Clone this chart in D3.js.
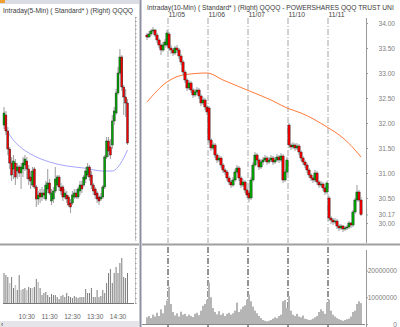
<!DOCTYPE html>
<html><head><meta charset="utf-8">
<script src="https://cdn.jsdelivr.net/npm/d3@7"></script>
<style>html,body{margin:0;padding:0;background:#fff;overflow:hidden}svg{display:block}</style>
</head><body>
<svg id="c" width="400" height="327"></svg>
<script>
// ---------- right panel: 10-min bars ----------
const dayLabels = ["11/05","11/06","11/07","11/10","11/11"];
const dayStartBars = [11,31,51,71,91];
// [open, high, low, close]
const tenMinBars = [
[33.76,33.80,33.66,33.72],[33.72,33.84,33.70,33.78],[33.78,33.88,33.74,33.84],[33.84,33.92,33.80,33.86],
[33.86,33.88,33.72,33.76],[33.76,33.80,33.60,33.66],[33.66,33.70,33.50,33.56],[33.56,33.60,33.36,33.46],
[33.46,33.62,33.42,33.56],[33.56,33.68,33.50,33.62],[33.56,33.86,33.52,33.80],[33.78,33.82,33.44,33.50],
[33.50,33.56,33.38,33.46],[33.46,33.50,33.34,33.40],[33.40,33.54,33.36,33.50],[33.50,33.56,33.40,33.46],
[33.46,33.50,33.28,33.34],[33.34,33.38,33.16,33.22],[33.22,33.26,32.96,33.02],[33.02,33.06,32.80,32.86],
[32.86,32.90,32.64,32.70],[32.70,32.86,32.66,32.80],[32.80,32.84,32.60,32.66],[32.66,32.70,32.50,32.56],
[32.56,32.68,32.52,32.62],[32.62,32.72,32.58,32.66],[32.66,32.70,32.48,32.54],[32.54,32.58,32.34,32.40],
[32.40,32.52,32.36,32.46],[32.46,32.50,32.26,32.32],[32.32,32.36,32.16,32.22],[32.30,32.34,31.60,31.66],
[31.66,31.70,31.44,31.50],[31.50,31.62,31.46,31.56],[31.56,31.60,31.30,31.36],[31.36,31.40,31.20,31.26],
[31.26,31.36,31.22,31.30],[31.30,31.34,31.10,31.16],[31.16,31.20,31.00,31.06],[31.06,31.10,30.96,31.02],
[31.02,31.06,30.84,30.90],[30.90,30.94,30.76,30.82],[30.82,30.86,30.70,30.76],[30.76,30.92,30.72,30.86],
[30.86,31.08,30.82,31.02],[31.02,31.16,30.98,31.10],[31.10,31.14,30.84,30.90],[30.90,30.94,30.70,30.76],
[30.76,30.88,30.72,30.82],[30.82,30.86,30.60,30.66],[30.66,30.70,30.50,30.56],[30.60,30.64,30.42,30.50],
[30.50,30.92,30.46,30.86],[30.86,31.22,30.82,31.16],[31.16,31.42,31.12,31.36],[31.36,31.40,31.20,31.26],
[31.26,31.30,31.06,31.12],[31.12,31.28,31.08,31.22],[31.22,31.32,31.16,31.26],[31.26,31.36,31.22,31.30],
[31.30,31.34,31.16,31.22],[31.22,31.32,31.18,31.26],[31.26,31.36,31.22,31.30],[31.30,31.34,31.16,31.22],
[31.22,31.32,31.18,31.26],[31.26,31.38,31.22,31.32],[31.32,31.36,31.20,31.26],[31.26,31.40,31.22,31.34],
[31.34,31.38,30.80,30.86],[30.86,31.08,30.82,31.02],[31.02,31.32,30.98,31.26],[31.96,32.00,31.50,31.56],
[31.56,31.60,31.46,31.52],[31.52,31.62,31.48,31.56],[31.56,31.60,31.44,31.50],[31.50,31.60,31.46,31.54],
[31.54,31.58,31.36,31.42],[31.42,31.46,31.24,31.30],[31.30,31.34,31.16,31.22],[31.22,31.26,31.10,31.16],
[31.16,31.20,31.00,31.06],[31.06,31.10,30.90,30.96],[30.96,31.00,30.84,30.90],[30.90,30.94,30.80,30.86],
[30.86,31.06,30.82,31.00],[31.00,31.04,30.76,30.82],[30.82,30.86,30.70,30.76],[30.76,30.84,30.72,30.78],
[30.78,30.82,30.64,30.70],[30.70,30.74,30.56,30.62],[30.62,30.84,30.58,30.80],[30.50,30.54,30.04,30.10],
[30.10,30.14,29.98,30.06],[30.06,30.10,29.96,30.02],[30.02,30.10,29.98,30.04],[30.04,30.08,29.88,29.94],
[29.94,29.98,29.84,29.90],[29.90,29.98,29.86,29.94],[29.94,29.96,29.82,29.88],[29.88,29.94,29.84,29.90],
[29.90,29.96,29.86,29.92],[29.92,30.04,29.88,30.00],[30.00,30.02,29.90,29.96],[29.96,30.26,29.92,30.22],
[30.22,30.50,30.18,30.46],[30.46,30.76,30.42,30.62],[30.62,30.66,30.42,30.46],[30.46,30.52,30.14,30.17]
];
// volume in millions of shares
const tenMinVolume = [
2.5,3.0,2.2,3.5,2.8,4.2,3.0,5.5,4.0,7.0,8.8,14.0,7.5,4.5,3.2,4.0,2.8,4.6,3.5,3.8,
2.9,3.5,3.0,2.6,3.8,4.2,3.3,5.0,6.8,7.5,9.0,15.5,10.0,6.0,4.5,3.6,4.8,3.4,4.0,3.0,
3.8,4.2,3.5,4.0,5.0,8.0,4.5,5.5,6.5,7.0,9.0,11.0,8.5,6.5,5.0,4.0,3.0,2.2,1.5,1.2,
1.0,1.2,1.5,2.0,2.5,2.2,3.0,3.5,8.5,9.0,6.0,10.5,5.0,3.5,3.0,3.8,2.8,2.5,3.2,2.0,
1.8,1.5,1.6,2.0,2.5,3.0,4.5,5.5,4.8,3.8,8.0,9.0,5.0,3.5,2.8,2.2,1.8,1.5,1.2,1.5,
1.8,2.0,2.8,4.5,5.0,7.5,8.5,7.8
];
// moving average samples: [bar index, value]
const tenMinMA = [[0,32.42],[10,32.82],[18,32.96],[30,33.00],[38,32.86],[50,32.66],[62,32.46],
[70,32.30],[77,32.20],[90,31.92],[98,31.70],[102,31.55],[107,31.32]];
const priceTicks = [34.00,33.50,33.00,32.50,32.00,31.50,31.00,30.50,30.00];
const lastPrice = 30.17;
const volumeTicks = [0,10000000,20000000];

// ---------- left panel: 5-min bars (11/11) ----------
const fiveMinBars = [
[30.26,30.35,30.24,30.32],[30.31,30.33,30.21,30.23],[30.23,30.25,30.11,30.14],[30.14,30.15,30.04,30.07],
[30.07,30.10,29.98,30.01],[30.04,30.11,29.99,30.08],[30.07,30.09,29.96,30.00],[30.03,30.07,29.99,30.05],
[30.05,30.06,30.00,30.02],[30.02,30.07,29.94,30.05],[30.04,30.10,30.00,30.07],[30.06,30.11,30.03,30.09],
[30.08,30.10,29.99,30.04],[30.04,30.06,29.96,29.99],[30.00,30.03,29.94,29.98],[29.96,30.05,29.95,30.03],
[30.04,30.05,29.94,29.95],[29.95,29.96,29.85,29.89],[29.89,29.93,29.86,29.91],[29.92,29.94,29.87,29.90],
[29.90,29.95,29.88,29.92],[29.92,29.94,29.89,29.91],[29.89,29.98,29.88,29.96],[29.94,30.04,29.92,29.97],
[29.97,29.99,29.91,29.92],[29.88,29.94,29.86,29.92],[29.89,29.95,29.87,29.93],[29.93,30.05,29.92,29.99],
[29.96,30.01,29.95,30.00],[30.00,30.01,29.93,29.95],[29.95,29.97,29.91,29.93],[29.95,29.96,29.88,29.90],
[29.90,29.94,29.89,29.92],[29.91,29.93,29.87,29.89],[29.90,29.91,29.85,29.86],[29.87,29.89,29.82,29.85],
[29.87,29.93,29.86,29.91],[29.90,29.94,29.89,29.92],[29.92,29.94,29.89,29.90],[29.90,29.95,29.89,29.94],
[29.93,29.98,29.91,29.96],[29.96,29.98,29.92,29.94],[29.96,30.01,29.95,30.00],[29.99,30.05,29.97,30.03],
[30.01,30.07,30.00,30.05],[30.05,30.06,29.98,30.00],[30.01,30.03,29.94,29.96],[29.96,29.97,29.91,29.93],
[29.94,29.95,29.89,29.91],[29.92,29.93,29.87,29.89],[29.90,29.91,29.86,29.88],[29.89,29.92,29.88,29.90],
[29.90,29.96,29.89,29.95],[29.95,30.11,29.94,30.10],[30.10,30.20,30.09,30.18],[30.18,30.20,30.10,30.13],
[30.15,30.19,30.09,30.11],[30.16,30.31,30.14,30.28],[30.28,30.35,30.26,30.33],[30.32,30.44,30.31,30.42],
[30.42,30.55,30.41,30.52],[30.52,30.64,30.51,30.60],[30.60,30.61,30.43,30.45],[30.45,30.46,30.31,30.40],
[30.40,30.44,30.30,30.37],[30.37,30.39,30.16,30.17]
];
const fiveMinVolume = [
3.0,2.8,2.6,2.0,2.6,1.5,1.8,1.3,2.8,1.3,1.4,1.5,1.3,1.6,1.5,1.5,1.6,2.4,2.1,1.5,
0.8,1.0,1.1,0.8,0.6,0.9,0.8,0.8,0.6,0.4,0.7,0.8,0.6,1.0,0.7,0.6,0.5,0.7,0.6,0.5,
0.6,0.6,0.6,1.4,1.0,1.0,1.5,0.6,0.6,1.3,0.6,0.7,1.3,1.0,2.0,3.0,3.4,2.0,3.0,3.6,
3.0,4.0,4.5,2.6,2.5,3.0
];
const fiveMinMA = [[1,30.245],[3,30.21],[8,30.155],[15,30.11],[24,30.075],[33,30.055],[42,30.045],
[52,30.03],[57,30.03],[60,30.05],[63,30.095],[65,30.135]];
const timeLabels = ["10:30","11:30","12:30","13:30","14:30"];
const timeLabelBars = [12,24,36,48,60];

const headerLeft = "Intraday(5-Min) ( Standard* )  (Right)  QQQQ";
const headerRight = "Intraday(10-Min) ( Standard* )  (Right)   QQQQ - POWERSHARES QQQ TRUST UNI";

// ---------- drawing ----------
const FONT = "'Liberation Sans Narrow','Arial Narrow','Liberation Sans',Arial,sans-serif";
const svg = d3.select("#c");
const defs = svg.append("defs");
function clip(id, x, y, w, h){ defs.append("clipPath").attr("id", id).append("rect").attr("x",x).attr("y",y).attr("width",w).attr("height",h); return `url(#${id})`; }

// header text squeezed horizontally to a target width
function header(txt, x, y, width){
  const t = svg.append("text").attr("x",0).attr("y",0).attr("font-family",FONT).attr("font-size",7.2)
    .attr("fill","#3a3a3a").text(txt);
  const w = t.node().getComputedTextLength();
  t.attr("transform",`translate(${x},${y}) scale(${width/w},1)`);
}

function candles(g, data, x, y, bw){
  const c = g.selectAll("g.cd").data(data).join("g").attr("class","cd");
  c.append("line").attr("x1",(d,i)=>x(i)).attr("x2",(d,i)=>x(i))
    .attr("y1",d=>y(d[1])).attr("y2",d=>y(d[2])).attr("stroke","#a4a4a4").attr("stroke-width",1.1);
  c.append("rect").attr("x",(d,i)=>x(i)-bw/2).attr("width",bw)
    .attr("y",d=>y(Math.max(d[0],d[3])))
    .attr("height",d=>Math.max(1,Math.abs(y(d[0])-y(d[3]))))
    .attr("fill",d=>d[3]>=d[0]?"#00a400":"#f00000")
    .attr("stroke","#202020").attr("stroke-width",0.4);
}

// ===== left panel =====
const xL = d3.scaleLinear().domain([0,65]).range([4,127.5]);
const yL = d3.scaleLinear().domain([29.685,30.80]).range([240,17]);
const vL = d3.scaleLinear().domain([0,5.5]).range([303,248]);

svg.append("rect").attr("x",0).attr("y",0).attr("width",139).attr("height",4).attr("fill","#dcdce4");
svg.append("rect").attr("x",0).attr("y",0).attr("width",5).attr("height",3).attr("fill","#f0a030");
header(headerLeft, 3, 12.5, 130);

const gL = svg.append("g").attr("clip-path", clip("cl",0,15,134,228));
gL.append("path").datum(fiveMinMA)
  .attr("d", d3.line().x(d=>xL(d[0])).y(d=>yL(d[1])).curve(d3.curveMonotoneX))
  .attr("fill","none").attr("stroke","#9a9aff").attr("stroke-width",0.9);
candles(gL, fiveMinBars, xL, yL, 2);

svg.append("g").attr("transform","translate(135,0)")
  .call(d3.axisRight(yL).ticks(40).tickSize(1.5).tickFormat(""))
  .call(g=>g.select(".domain").attr("stroke","#c8c8c8"))
  .call(g=>g.selectAll(".tick line").attr("stroke","#999"));
svg.append("g").attr("transform","translate(135,0)")
  .call(d3.axisRight(vL).ticks(14).tickSize(1.5).tickFormat(""))
  .call(g=>g.select(".domain").attr("stroke","#c8c8c8"))
  .call(g=>g.selectAll(".tick line").attr("stroke","#999"));

svg.append("g").selectAll("line").data(fiveMinVolume).join("line")
  .attr("x1",(d,i)=>xL(i)).attr("x2",(d,i)=>xL(i))
  .attr("y1",d=>vL(d)).attr("y2",vL(0)+1)
  .attr("stroke",(d,i)=>(i>=3&&i<=19&&i%3===0)?"#c8c8c8":"#7c7c7c").attr("stroke-width",(d,i)=>(i>=3&&i<=19&&i%3===0)?1.6:1);
svg.append("line").attr("x1",3).attr("x2",134).attr("y1",vL(0)+0.5).attr("y2",vL(0)+0.5).attr("stroke","#777").attr("stroke-width",1);

svg.append("g").selectAll("text").data(timeLabels).join("text")
  .attr("x",(d,i)=>xL(timeLabelBars[i])).attr("y",318.5).attr("text-anchor","middle")
  .attr("font-family",FONT).attr("font-size",6.6).attr("fill","#666").text(d=>d);

svg.append("rect").attr("x",0).attr("y",321).attr("width",139).attr("height",6).attr("fill","#e6e6ea");
svg.append("text").attr("x",1).attr("y",326.5).attr("font-family",FONT).attr("font-size",6.5).attr("fill","#333").text("‹");

// ===== right panel =====
const xR = d3.scaleLinear().domain([0,107]).range([147,361]);
const yR = d3.scaleLinear().domain([29.66,34.12]).range([240,17]);
const vR = d3.scaleLinear().domain([0,28.8]).range([324,247]);

header(headerRight, 147, 9.5, 247);

svg.append("g").selectAll("text").data(dayLabels).join("text")
  .attr("x",(d,i)=>xR(dayStartBars[i]-0.5)+0.5).attr("y",16.5)
  .attr("font-family",FONT).attr("font-size",6.8).attr("fill","#444").text(d=>d);

const sep = svg.append("g");
sep.selectAll("line.p").data(dayStartBars).join("line").attr("class","p")
  .attr("x1",d=>xR(d-0.5)).attr("x2",d=>xR(d-0.5)).attr("y1",18).attr("y2",243)
  .attr("stroke","#9a9a9a").attr("stroke-width",0.9).attr("stroke-dasharray","6,2,1,2");
sep.selectAll("line.v").data(dayStartBars).join("line").attr("class","v")
  .attr("x1",d=>xR(d-0.5)).attr("x2",d=>xR(d-0.5)).attr("y1",247).attr("y2",327)
  .attr("stroke","#111").attr("stroke-width",0.9).attr("stroke-dasharray","6,2,1,2");

const gR = svg.append("g").attr("clip-path", clip("cr",142,15,223,228));
gR.append("path").datum(tenMinMA)
  .attr("d", d3.line().x(d=>xR(d[0])).y(d=>yR(d[1])).curve(d3.curveMonotoneX))
  .attr("fill","none").attr("stroke","#ff7a3a").attr("stroke-width",1);
candles(gR, tenMinBars, xR, yR, 2.3);

svg.append("g").attr("clip-path", clip("cv",142,247,223,80))
  .selectAll("rect").data(tenMinVolume).join("rect")
  .attr("x",(d,i)=>xR(i)-1).attr("width",2)
  .attr("y",d=>vR(d)).attr("height",d=>vR(0)-vR(d)).attr("fill","#b5b5b5");
svg.append("line").attr("x1",142).attr("x2",365).attr("y1",vR(0)+0.5).attr("y2",vR(0)+0.5).attr("stroke","#888");

const ax = svg.append("g").attr("transform","translate(366,0)")
  .call(d3.axisRight(yR).tickValues(priceTicks.concat([lastPrice])).tickSize(2).tickFormat(d3.format(".2f")));
ax.select(".domain").attr("stroke","#999").attr("d","M0.5,18V243");
ax.selectAll(".tick line").attr("stroke","#999");
ax.selectAll(".tick text").attr("x",29).attr("text-anchor","end").attr("font-family",FONT).attr("font-size",6.6).attr("fill","#808080");

const vax = svg.append("g").attr("transform","translate(366,0)")
  .call(d3.axisRight(vR).tickValues(volumeTicks.map(v=>v/1e6)).tickSize(2).tickFormat(d=>String(Math.round(d*1e6))));
vax.select(".domain").attr("stroke","#999").attr("d","M0.5,250V327");
vax.selectAll(".tick line").attr("stroke","#999");
vax.selectAll(".tick text").attr("x",31).attr("text-anchor","end").attr("font-family",FONT).attr("font-size",6.6).attr("fill","#808080");

svg.append("line").attr("x1",0).attr("x2",139).attr("y1",244.5).attr("y2",244.5).attr("stroke","#a0a0a0").attr("stroke-width",2);
svg.append("line").attr("x1",142).attr("x2",400).attr("y1",244.5).attr("y2",244.5).attr("stroke","#a0a0a0").attr("stroke-width",2);
svg.append("line").attr("x1",140.5).attr("x2",140.5).attr("y1",0).attr("y2",327).attr("stroke","#9090a4").attr("stroke-width",2);
</script>
</body></html>
